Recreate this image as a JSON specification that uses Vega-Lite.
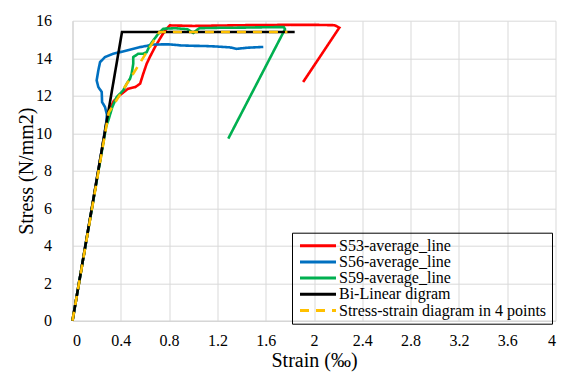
{
  "$schema": "https://vega.github.io/schema/vega-lite/v6.json",
  "width": 483,
  "height": 300,
  "autosize": {"type": "none"},
  "padding": {"left": 72.5, "top": 20.7, "right": 17.5, "bottom": 53.3},
  "config": {
    "view": {"stroke": null},
    "font": "serif",
    "axis": {
      "labelFont": "serif",
      "titleFont": "serif",
      "labelFontSize": 16,
      "titleFontSize": 20,
      "titleFontWeight": "normal",
      "labelColor": "#000000",
      "titleColor": "#000000",
      "gridColor": "#d9d9d9",
      "gridWidth": 1,
      "domainColor": "#d0d0d0",
      "ticks": false
    }
  },
  "data": {
    "values": [
      {"series": "S53-average_line", "i": 0, "strain": 0, "stress": 0},
      {"series": "S53-average_line", "i": 1, "strain": 0.15, "stress": 5.6},
      {"series": "S53-average_line", "i": 2, "strain": 0.28, "stress": 10.5},
      {"series": "S53-average_line", "i": 3, "strain": 0.31, "stress": 11.3},
      {"series": "S53-average_line", "i": 4, "strain": 0.34, "stress": 11.7},
      {"series": "S53-average_line", "i": 5, "strain": 0.39, "stress": 12.02},
      {"series": "S53-average_line", "i": 6, "strain": 0.46, "stress": 12.37},
      {"series": "S53-average_line", "i": 7, "strain": 0.52, "stress": 12.46},
      {"series": "S53-average_line", "i": 8, "strain": 0.56, "stress": 12.64},
      {"series": "S53-average_line", "i": 9, "strain": 0.586, "stress": 13.17},
      {"series": "S53-average_line", "i": 10, "strain": 0.614, "stress": 13.7},
      {"series": "S53-average_line", "i": 11, "strain": 0.64, "stress": 14.06},
      {"series": "S53-average_line", "i": 12, "strain": 0.683, "stress": 14.59},
      {"series": "S53-average_line", "i": 13, "strain": 0.724, "stress": 15.04},
      {"series": "S53-average_line", "i": 14, "strain": 0.766, "stress": 15.48},
      {"series": "S53-average_line", "i": 15, "strain": 0.807, "stress": 15.75},
      {"series": "S53-average_line", "i": 16, "strain": 1.0, "stress": 15.72},
      {"series": "S53-average_line", "i": 17, "strain": 1.2, "stress": 15.74},
      {"series": "S53-average_line", "i": 18, "strain": 1.4, "stress": 15.76},
      {"series": "S53-average_line", "i": 19, "strain": 1.6, "stress": 15.77},
      {"series": "S53-average_line", "i": 20, "strain": 1.8, "stress": 15.78},
      {"series": "S53-average_line", "i": 21, "strain": 2.0, "stress": 15.78},
      {"series": "S53-average_line", "i": 22, "strain": 2.17, "stress": 15.76},
      {"series": "S53-average_line", "i": 23, "strain": 2.21, "stress": 15.63},
      {"series": "S53-average_line", "i": 24, "strain": 1.91, "stress": 12.73},

      {"series": "S56-average_line", "i": 0, "strain": 0, "stress": 0},
      {"series": "S56-average_line", "i": 1, "strain": 0.15, "stress": 5.6},
      {"series": "S56-average_line", "i": 2, "strain": 0.25, "stress": 9.4},
      {"series": "S56-average_line", "i": 3, "strain": 0.28, "stress": 10.6},
      {"series": "S56-average_line", "i": 4, "strain": 0.285, "stress": 11.0},
      {"series": "S56-average_line", "i": 5, "strain": 0.269, "stress": 11.4},
      {"series": "S56-average_line", "i": 6, "strain": 0.245, "stress": 11.66},
      {"series": "S56-average_line", "i": 7, "strain": 0.242, "stress": 12.2},
      {"series": "S56-average_line", "i": 8, "strain": 0.214, "stress": 12.46},
      {"series": "S56-average_line", "i": 9, "strain": 0.2, "stress": 12.82},
      {"series": "S56-average_line", "i": 10, "strain": 0.214, "stress": 13.35},
      {"series": "S56-average_line", "i": 11, "strain": 0.228, "stress": 13.79},
      {"series": "S56-average_line", "i": 12, "strain": 0.269, "stress": 14.06},
      {"series": "S56-average_line", "i": 13, "strain": 0.338, "stress": 14.24},
      {"series": "S56-average_line", "i": 14, "strain": 0.449, "stress": 14.41},
      {"series": "S56-average_line", "i": 15, "strain": 0.559, "stress": 14.59},
      {"series": "S56-average_line", "i": 16, "strain": 0.67, "stress": 14.73},
      {"series": "S56-average_line", "i": 17, "strain": 0.8, "stress": 14.74},
      {"series": "S56-average_line", "i": 18, "strain": 0.9, "stress": 14.68},
      {"series": "S56-average_line", "i": 19, "strain": 1.0, "stress": 14.66},
      {"series": "S56-average_line", "i": 20, "strain": 1.1, "stress": 14.65},
      {"series": "S56-average_line", "i": 21, "strain": 1.2, "stress": 14.62},
      {"series": "S56-average_line", "i": 22, "strain": 1.3, "stress": 14.58},
      {"series": "S56-average_line", "i": 23, "strain": 1.36, "stress": 14.5},
      {"series": "S56-average_line", "i": 24, "strain": 1.45, "stress": 14.56},
      {"series": "S56-average_line", "i": 25, "strain": 1.58, "stress": 14.6},

      {"series": "S59-average_line", "i": 0, "strain": 0, "stress": 0},
      {"series": "S59-average_line", "i": 1, "strain": 0.15, "stress": 5.6},
      {"series": "S59-average_line", "i": 2, "strain": 0.28, "stress": 10.4},
      {"series": "S59-average_line", "i": 3, "strain": 0.297, "stress": 10.69},
      {"series": "S59-average_line", "i": 4, "strain": 0.33, "stress": 11.4},
      {"series": "S59-average_line", "i": 5, "strain": 0.366, "stress": 11.93},
      {"series": "S59-average_line", "i": 6, "strain": 0.42, "stress": 12.28},
      {"series": "S59-average_line", "i": 7, "strain": 0.449, "stress": 12.64},
      {"series": "S59-average_line", "i": 8, "strain": 0.476, "stress": 12.9},
      {"series": "S59-average_line", "i": 9, "strain": 0.49, "stress": 13.17},
      {"series": "S59-average_line", "i": 10, "strain": 0.503, "stress": 13.7},
      {"series": "S59-average_line", "i": 11, "strain": 0.503, "stress": 14.06},
      {"series": "S59-average_line", "i": 12, "strain": 0.545, "stress": 14.24},
      {"series": "S59-average_line", "i": 13, "strain": 0.586, "stress": 14.24},
      {"series": "S59-average_line", "i": 14, "strain": 0.614, "stress": 14.32},
      {"series": "S59-average_line", "i": 15, "strain": 0.64, "stress": 14.68},
      {"series": "S59-average_line", "i": 16, "strain": 0.669, "stress": 14.95},
      {"series": "S59-average_line", "i": 17, "strain": 0.71, "stress": 15.3},
      {"series": "S59-average_line", "i": 18, "strain": 0.752, "stress": 15.57},
      {"series": "S59-average_line", "i": 19, "strain": 0.85, "stress": 15.6},
      {"series": "S59-average_line", "i": 20, "strain": 0.95, "stress": 15.55},
      {"series": "S59-average_line", "i": 21, "strain": 1.0, "stress": 15.35},
      {"series": "S59-average_line", "i": 22, "strain": 1.05, "stress": 15.6},
      {"series": "S59-average_line", "i": 23, "strain": 1.2, "stress": 15.62},
      {"series": "S59-average_line", "i": 24, "strain": 1.4, "stress": 15.63},
      {"series": "S59-average_line", "i": 25, "strain": 1.6, "stress": 15.65},
      {"series": "S59-average_line", "i": 26, "strain": 1.75, "stress": 15.66},
      {"series": "S59-average_line", "i": 27, "strain": 1.76, "stress": 15.55},
      {"series": "S59-average_line", "i": 28, "strain": 1.29, "stress": 9.71},

      {"series": "Bi-Linear digram", "i": 0, "strain": 0, "stress": 0},
      {"series": "Bi-Linear digram", "i": 1, "strain": 0.41, "stress": 15.4},
      {"series": "Bi-Linear digram", "i": 2, "strain": 1.84, "stress": 15.4},

      {"series": "Stress-strain diagram in 4 points", "i": 0, "strain": 0, "stress": 0},
      {"series": "Stress-strain diagram in 4 points", "i": 1, "strain": 0.3, "stress": 11.1},
      {"series": "Stress-strain diagram in 4 points", "i": 2, "strain": 0.72, "stress": 15.4},
      {"series": "Stress-strain diagram in 4 points", "i": 3, "strain": 1.78, "stress": 15.4}
    ]
  },
  "mark": {"type": "line", "strokeWidth": 2.6},
  "encoding": {
    "x": {
      "field": "strain",
      "type": "quantitative",
      "scale": {"domain": [0, 4], "nice": false, "zero": true},
      "axis": {
        "values": [0, 0.4, 0.8, 1.2, 1.6, 2, 2.4, 2.8, 3.2, 3.6, 4],
        "format": ".1~f",
        "title": "Strain (‰)",
        "labelFont": "serif",
        "titleFont": "serif",
        "labelPadding": 12,
        "titlePadding": 2
      }
    },
    "y": {
      "field": "stress",
      "type": "quantitative",
      "scale": {"domain": [0, 16], "nice": false},
      "axis": {
        "values": [0, 2, 4, 6, 8, 10, 12, 14, 16],
        "title": "Stress (N/mm2)",
        "labelFont": "serif",
        "titleFont": "serif",
        "labelPadding": 21,
        "titlePadding": -1
      }
    },
    "color": {
      "field": "series",
      "type": "nominal",
      "scale": {
        "domain": ["S53-average_line", "S56-average_line", "S59-average_line", "Bi-Linear digram", "Stress-strain diagram in 4 points"],
        "range": ["#ff0000", "#0070c0", "#00b050", "#000000", "#ffc000"]
      },
      "legend": {
        "orient": "none",
        "legendX": 219.5,
        "legendY": 212,
        "title": null,
        "strokeColor": "#000000",
        "padding": 5,
        "labelFont": "serif",
        "labelFontSize": 16,
        "labelColor": "#000000",
        "labelLimit": 400,
        "labelOffset": 26,
        "symbolType": "M-1,0H6.2",
        "symbolStrokeWidth": 3,
        "symbolSize": 100,
        "rowPadding": 0.2
      }
    },
    "strokeDash": {
      "field": "series",
      "type": "nominal",
      "scale": {
        "domain": ["S53-average_line", "S56-average_line", "S59-average_line", "Bi-Linear digram", "Stress-strain diagram in 4 points"],
        "range": [[1, 0], [1, 0], [1, 0], [1, 0], [9, 7]]
      },
      "legend": {
        "orient": "none",
        "legendX": 219.5,
        "legendY": 212,
        "title": null,
        "strokeColor": "#000000",
        "padding": 5,
        "labelFont": "serif",
        "labelFontSize": 16,
        "labelColor": "#000000",
        "labelLimit": 400,
        "labelOffset": 26,
        "symbolType": "M-1,0H6.2",
        "symbolStrokeWidth": 3,
        "symbolSize": 100,
        "rowPadding": 0.2
      }
    },
    "order": {"field": "i", "type": "quantitative"}
  }
}
